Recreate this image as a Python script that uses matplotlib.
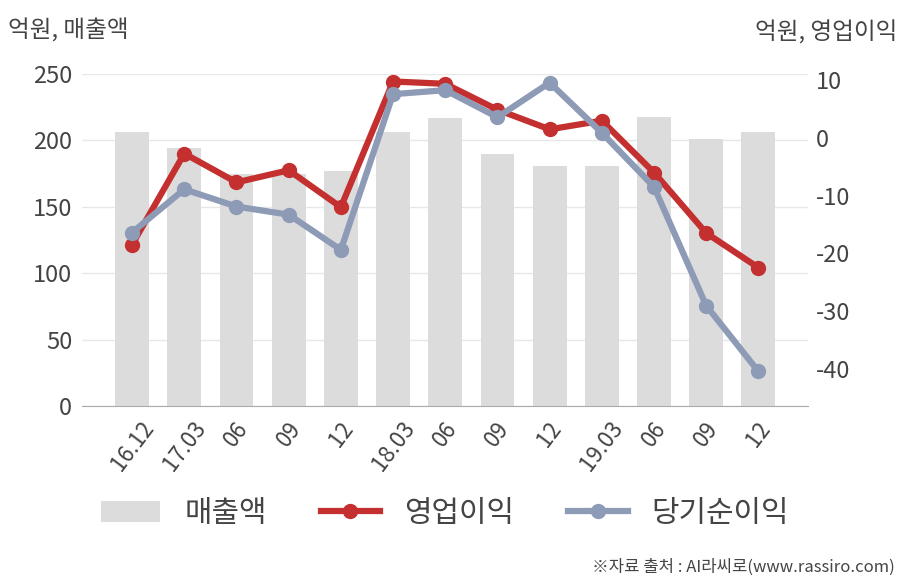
import matplotlib.pyplot as plt
import numpy as np

plt.rcParams['font.family'] = ['Noto Sans CJK KR', 'DejaVu Sans']
plt.rcParams['axes.unicode_minus'] = False

# =========================
# Data
# =========================
quarters = ["16.12", "17.03", "06", "09", "12", "18.03", "06", "09", "12",
            "19.03", "06", "09", "12"]
sales = [206, 194, 175, 175, 177, 206, 217, 190, 181, 181, 218, 201, 206]
op_profit = [-18.5, -2.7, -7.7, -5.6, -12.0, 9.8, 9.4, 4.9, 1.5, 3.0, -6.0, -16.5, -22.5]
net_profit = [-16.4, -8.9, -11.9, -13.3, -19.4, 7.6, 8.3, 3.6, 9.6, 0.9, -8.5, -29.1, -40.5]

bar_color = "#dcdcdc"
red = "#c3302f"
blue = "#8e9bb6"
text_color = "#444444"

# =========================
# Figure
# =========================
fig = plt.figure(figsize=(9.08, 5.80), dpi=100)
ax = fig.add_axes([0.0903, 0.30, 0.7996, 0.5724])
x = np.arange(len(quarters))

ax.bar(x, sales, width=0.65, color=bar_color, label="매출액")
ax.set_ylim(0, 250)
ax.set_xlim(-0.96, 12.95)
ax.set_yticks([0, 50, 100, 150, 200, 250])
ax.set_axisbelow(True)
ax.yaxis.grid(True, color="#e8e8e8", linewidth=1)
for s in ["top", "right", "left"]:
    ax.spines[s].set_visible(False)
ax.spines["bottom"].set_color("#aaaaaa")
ax.tick_params(axis="y", length=0, pad=7, labelsize=17, labelcolor=text_color)
ax.tick_params(axis="x", length=0, pad=8, labelsize=16, labelcolor=text_color)
ax.set_xticks(x)
ax.set_xticklabels(quarters, rotation=53, ha="center", va="top")

ax2 = ax.twinx()
ax2.plot(x, op_profit, color=red, linewidth=4.5, marker="o", markersize=10,
         label="영업이익")
ax2.plot(x, net_profit, color=blue, linewidth=4.5, marker="o", markersize=10,
         label="당기순이익")
ax2.set_ylim(-46.5, 11.1)
ax2.set_yticks([10, 0, -10, -20, -30, -40])
for s in ["top", "right", "left", "bottom"]:
    ax2.spines[s].set_visible(False)
ax2.tick_params(axis="y", length=0, pad=6, labelsize=17, labelcolor=text_color)

# =========================
# Labels
# =========================
fig.text(0.009, 0.948, "억원, 매출액", fontsize=17, color=text_color,
         ha="left", va="center")
fig.text(0.988, 0.943, "억원, 영업이익", fontsize=17, color=text_color,
         ha="right", va="center")
fig.text(0.985, 0.022, "※자료 출처 : AI라씨로(www.rassiro.com)", fontsize=12,
         color=text_color, ha="right", va="center")

h1, l1 = ax.get_legend_handles_labels()
h2, l2 = ax2.get_legend_handles_labels()
fig.legend(h1 + h2, l1 + l2, loc="center", bbox_to_anchor=(0.49, 0.115),
           ncol=3, frameon=False, fontsize=21.5, handlelength=2.0,
           handletextpad=0.8, columnspacing=1.8, labelcolor=text_color)

plt.savefig("out.png")
